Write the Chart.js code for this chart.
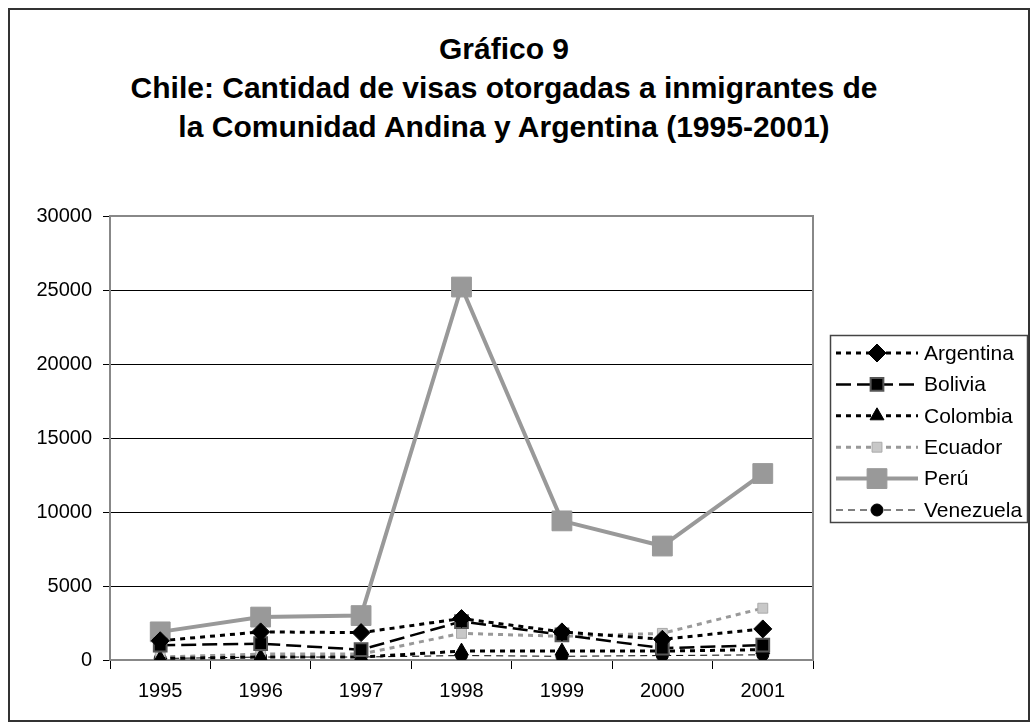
<!DOCTYPE html>
<html lang="es">
  <head>
    <meta charset="UTF-8" />
    <title>Gráfico 9</title>
    <style>
      body { margin: 0; background: #fff; }
      #frame { position: absolute; left: 8px; top: 8px; width: 1018px; height: 710px; border: 2px solid #333; }
      #title { position: absolute; left: 0; top: 29px; width: 1008px; text-align: center;
        font: bold 30px/39px "Liberation Sans", Arial, sans-serif; color: #000; }
      #myChart { position: absolute; left: 0; top: 0; }
    </style>
  </head>
  <body>
    <div id="frame"></div>
    <div id="title">Gráfico 9<br />Chile: Cantidad de visas otorgadas a inmigrantes de<br />la Comunidad Andina y Argentina (1995-2001)</div>
    <canvas id="myChart" width="1036" height="728"></canvas>

    <script src="https://cdn.jsdelivr.net/npm/chart.js"></script>
    <script>
      const years = ["1995", "1996", "1997", "1998", "1999", "2000", "2001"];
      const argentina = [1300, 1900, 1850, 2800, 1900, 1400, 2100];
      const bolivia = [1000, 1100, 700, 2600, 1700, 800, 1000];
      const colombia = [100, 200, 200, 600, 600, 600, 700];
      const ecuador = [200, 400, 400, 1800, 1600, 1800, 3500];
      const peru = [1900, 2900, 3000, 25200, 9400, 7700, 12600];
      const venezuela = [100, 200, 200, 300, 250, 300, 350];

      Chart.defaults.font.family = "'Liberation Sans', Arial, sans-serif";
      Chart.defaults.font.size = 20;
      Chart.defaults.color = "#000";

      // plot frame in grey, drawn under the lines
      const frame = {
        id: "frame",
        beforeDatasetsDraw(chart) {
          const a = chart.chartArea;
          const ctx = chart.ctx;
          ctx.save();
          ctx.strokeStyle = "#888";
          ctx.lineWidth = 2;
          ctx.strokeRect(a.left, a.top, a.right - a.left, a.bottom - a.top);
          ctx.restore();
        },
      };

      // legend box with dashed line samples and markers
      const sideLegend = {
        id: "sideLegend",
        afterDraw(chart) {
          const ctx = chart.ctx;
          ctx.save();
          ctx.strokeStyle = "#444";
          ctx.lineWidth = 1.5;
          ctx.strokeRect(830.5, 335.5, 197, 187);
          chart.data.datasets.forEach((ds, i) => {
            const y = 353 + i * 31.4;
            ctx.save();
            ctx.strokeStyle = ds.borderColor;
            ctx.lineWidth = ds.borderWidth;
            ctx.setLineDash(ds.borderDash || []);
            ctx.beginPath();
            ctx.moveTo(836, y);
            ctx.lineTo(918, y);
            ctx.stroke();
            ctx.restore();
            ctx.save();
            ctx.fillStyle = ds.pointBackgroundColor;
            ctx.strokeStyle = ds.pointBorderColor;
            ctx.lineWidth = ds.pointBorderWidth;
            Chart.helpers.drawPoint(ctx, {
              pointStyle: ds.pointStyle,
              radius: ds.pointRadius,
              rotation: 0,
              borderWidth: ds.pointBorderWidth,
            }, 877, y);
            ctx.restore();
            ctx.fillStyle = "#000";
            ctx.font = "21px 'Liberation Sans', Arial, sans-serif";
            ctx.textAlign = "left";
            ctx.textBaseline = "middle";
            ctx.fillText(ds.label, 924, y + 1);
          });
          ctx.restore();
        },
      };

      const ctx = document.getElementById("myChart");

      new Chart(ctx, {
        type: "line",
        data: {
          labels: years,
          datasets: [
            {
              label: "Argentina",
              data: argentina,
              borderColor: "#000",
              borderWidth: 3,
              borderDash: [5, 5],
              pointStyle: "rectRot",
              pointRadius: 9,
              pointBackgroundColor: "#000",
              pointBorderColor: "#000",
              pointBorderWidth: 1,
            },
            {
              label: "Bolivia",
              data: bolivia,
              borderColor: "#000",
              borderWidth: 2.5,
              borderDash: [15, 6],
              pointStyle: "rect",
              pointRadius: 9,
              pointBackgroundColor: "#000",
              pointBorderColor: "#555",
              pointBorderWidth: 2,
            },
            {
              label: "Colombia",
              data: colombia,
              borderColor: "#000",
              borderWidth: 3,
              borderDash: [5, 5],
              pointStyle: "triangle",
              pointRadius: 8,
              pointBackgroundColor: "#000",
              pointBorderColor: "#000",
              pointBorderWidth: 1,
            },
            {
              label: "Ecuador",
              data: ecuador,
              borderColor: "#999",
              borderWidth: 3,
              borderDash: [5, 5],
              pointStyle: "rect",
              pointRadius: 7,
              pointBackgroundColor: "#c8c8c8",
              pointBorderColor: "#aaa",
              pointBorderWidth: 1,
            },
            {
              label: "Perú",
              data: peru,
              borderColor: "#999",
              borderWidth: 4,
              pointStyle: "rect",
              pointRadius: 14,
              pointBackgroundColor: "#999",
              pointBorderColor: "#999",
              pointBorderWidth: 1,
            },
            {
              label: "Venezuela",
              data: venezuela,
              borderColor: "#000",
              borderWidth: 1,
              borderDash: [7, 5],
              pointStyle: "circle",
              pointRadius: 6,
              pointBackgroundColor: "#000",
              pointBorderColor: "#000",
              pointBorderWidth: 1,
            },
          ],
        },
        options: {
          responsive: false,
          animation: false,
          devicePixelRatio: 1,
          layout: { padding: { left: 0, top: 216, right: 223, bottom: 18 } },
          plugins: {
            legend: { display: false },
            title: { display: false },
            tooltip: { enabled: false },
          },
          scales: {
            x: {
              offset: true,
              afterFit: (s) => { s.height = 50; },
              grid: { offset: true, drawOnChartArea: false, color: "#000", tickLength: 9 },
              border: { display: true, color: "#888", width: 2 },
              ticks: { padding: 10 },
            },
            y: {
              min: 0,
              max: 30000,
              afterFit: (s) => { s.width = 110; },
              grid: { color: "#000", lineWidth: 1, tickLength: 7 },
              border: { display: true, color: "#888", width: 2 },
              ticks: { stepSize: 5000, padding: 11, callback: (v) => String(v) },
            },
          },
        },
        plugins: [frame, sideLegend],
      });
    </script>
  </body>
</html>
